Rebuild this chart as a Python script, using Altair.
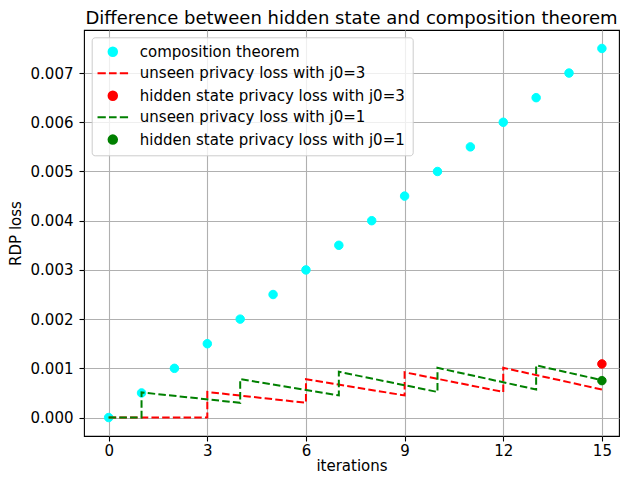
import altair as alt
import pandas as pd

# ---- data ----
iterations = [0, 1, 2, 3, 4, 5, 6, 7, 8, 9, 10, 11, 12, 13, 14, 15]
composition = [0.0, 0.0005, 0.001, 0.0015, 0.002, 0.0025, 0.003, 0.0035,
               0.004, 0.0045, 0.005, 0.0055, 0.006, 0.0065, 0.007, 0.0075]

unseen_j3_x = [0, 3, 3, 6, 6, 9, 9, 12, 12, 15]
unseen_j3_y = [0.0, 0.0, 0.00052, 0.00030, 0.00078, 0.00045, 0.00092, 0.00052, 0.00101, 0.00057]

unseen_j1_x = [0, 1, 1, 4, 4, 7, 7, 10, 10, 13, 13, 15]
unseen_j1_y = [0.0, 0.0, 0.00051, 0.00030, 0.00078, 0.00045, 0.00093, 0.00052,
               0.00101, 0.00057, 0.00106, 0.00076]

hidden_x = [15]
hidden_j3 = [0.00109]
hidden_j1 = [0.00075]

series = ["composition theorem",
          "unseen privacy loss with j0=3",
          "hidden state privacy loss with j0=3",
          "unseen privacy loss with j0=1",
          "hidden state privacy loss with j0=1"]
colors = ["#00ffff", "#ff0000", "#ff0000", "#008000", "#008000"]
x_ticks = [0, 3, 6, 9, 12, 15]
y_ticks = [0.0, 0.001, 0.002, 0.003, 0.004, 0.005, 0.006, 0.007]

dash_path = "M-3.6,0L-1.65,0M-0.9,0L0.9,0M1.65,0L3.6,0"
shapes = ["circle", dash_path, "circle", dash_path, "circle"]

# ---- tables ----
comp_df = pd.DataFrame({"x": iterations, "y": composition, "series": series[0]})
j3_line = pd.DataFrame({"x": unseen_j3_x, "y": unseen_j3_y, "series": series[1],
                        "ord": list(range(len(unseen_j3_x)))})
j3_dot = pd.DataFrame({"x": hidden_x, "y": hidden_j3, "series": series[2]})
j1_line = pd.DataFrame({"x": unseen_j1_x, "y": unseen_j1_y, "series": series[3],
                        "ord": list(range(len(unseen_j1_x)))})
j1_dot = pd.DataFrame({"x": hidden_x, "y": hidden_j1, "series": series[4]})

FONT = "DejaVu Sans"

xenc = alt.X("x:Q",
             scale=alt.Scale(domain=[-0.75, 15.52], nice=False, zero=False),
             axis=alt.Axis(values=x_ticks, title="iterations", format="d"))
yenc = alt.Y("y:Q",
             scale=alt.Scale(domain=[-0.000375, 0.007875], nice=False, zero=False),
             axis=alt.Axis(values=y_ticks, title="RDP loss", format=".3f"))

fill_enc = alt.Fill("series:N", scale=alt.Scale(domain=series, range=colors),
                    legend=alt.Legend(title=None))
stroke_enc = alt.Stroke("series:N", scale=alt.Scale(domain=series, range=colors),
                        legend=alt.Legend(title=None))
shape_enc = alt.Shape("series:N", scale=alt.Scale(domain=series, range=shapes),
                      legend=alt.Legend(title=None))


def dots(df):
    return alt.Chart(df).mark_point(filled=True, size=72, opacity=1, strokeWidth=1).encode(
        x=xenc, y=yenc, fill=fill_enc, stroke=stroke_enc, shape=shape_enc)


def dashed(df):
    return alt.Chart(df).mark_line(strokeDash=[7.5, 3.2], strokeWidth=2).encode(
        x=xenc, y=yenc, stroke=stroke_enc, order="ord:Q")


chart = alt.layer(
    dots(comp_df), dashed(j3_line), dots(j3_dot), dashed(j1_line), dots(j1_dot)
).properties(
    width=535, height=406,
    title=alt.TitleParams("Difference between hidden state and composition theorem",
                          font=FONT, fontSize=18, fontWeight="normal", color="black",
                          anchor="middle", offset=2),
    autosize=alt.AutoSizeParams(type="none"),
    padding={"left": 76, "top": 22, "right": 1, "bottom": 37},
).configure_view(
    stroke="black", strokeWidth=1.1
).configure_axis(
    domain=False, grid=True, gridColor="#b0b0b0", gridWidth=1.1, gridOpacity=1,
    tickColor="black", tickSize=5, tickWidth=1.1,
    labelFont=FONT, labelFontSize=15, labelColor="black",
    titleFont=FONT, titleFontSize=15, titleFontWeight="normal", titleColor="black",
).configure_axisX(
    labelPadding=2, titlePadding=0
).configure_axisY(
    labelPadding=6, titlePadding=6.5
).configure_legend(
    orient="none", legendX=7.7, legendY=7.3, padding=7,
    fillColor="rgba(255,255,255,0.8)", strokeColor="#cccccc", strokeWidth=1,
    cornerRadius=3, labelFont=FONT, labelFontSize=15, labelColor="black",
    labelLimit=500, symbolSize=72, symbolStrokeWidth=2, symbolOffset=6.6,
    labelOffset=19.5, rowPadding=5.45,
)

chart.save("out.html", embed_options={"renderer": "svg", "actions": False})
